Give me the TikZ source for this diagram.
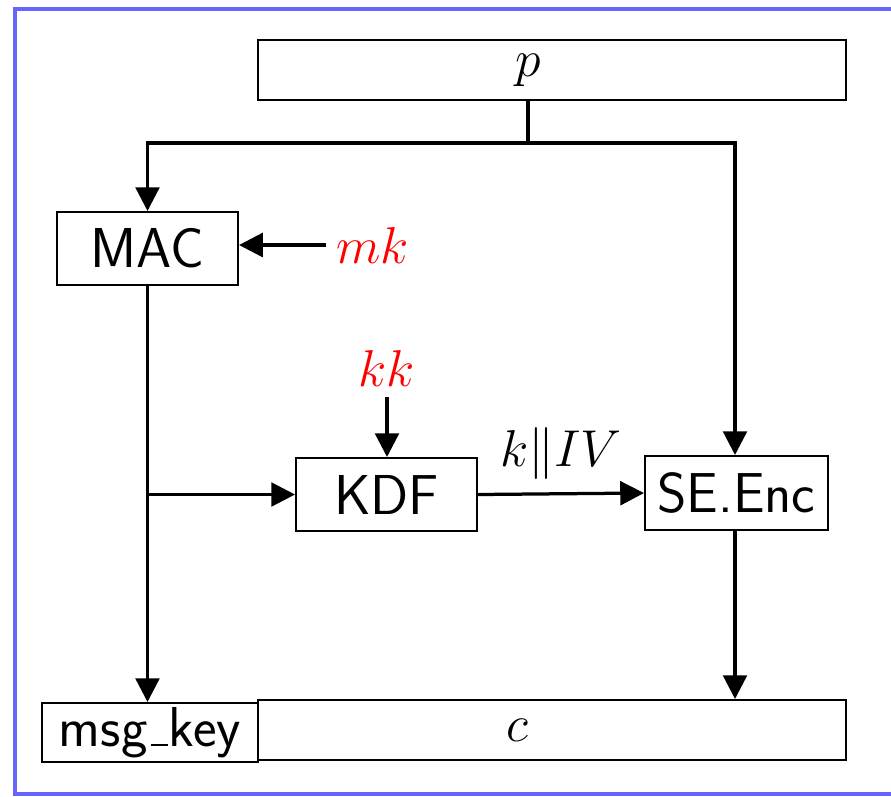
\documentclass[tikz,border=0pt]{standalone}
\usetikzlibrary{arrows.meta}
\definecolor{frameblue}{RGB}{102,102,255}
\newcommand{\thinunderscore}{\kern.06em\rule{.3em}{0.8pt}\kern.02em}
\tikzset{
  box/.style={draw, line width=0.8pt, inner sep=0pt, font=\fontsize{22.5}{26}\selectfont\sffamily},
  arr/.style={line width=1.3pt, -{Triangle[length=9.5pt,width=9.5pt]}},
  plain/.style={line width=1.3pt},
  mathlbl/.style={inner sep=4pt, font=\fontsize{20.5}{24}\selectfont},
  key/.style={mathlbl, text=red},
}
\begin{document}
\begin{tikzpicture}[x=0.4pt,y=-0.4pt]
\clip (0,0) rectangle (891,796);
\useasboundingbox (0,0) rectangle (891,796);
\draw[frameblue, line width=1.6pt] (15,9) rectangle (905,794);

\node[box, minimum width={588*0.4pt}, minimum height={60*0.4pt}] (pbox) at (552,70) {};
\node[mathlbl] (p) at (528,70) {$p$};
\node[box, minimum width={181*0.4pt}, minimum height={73*0.4pt}] (MAC) at (147.5,248.5) {MAC};
\node[box, minimum width={181*0.4pt}, minimum height={73*0.4pt}] (KDF) at (386.5,494.5) {KDF};
\node[box, minimum width={183*0.4pt}, minimum height={74*0.4pt}] (SE) at (736.5,493) {SE.Enc};
\node[box, minimum width={216*0.4pt}, minimum height={59*0.4pt}] (msg) at (150,732.5) {msg\thinunderscore key};
\node[box, minimum width={588*0.4pt}, minimum height={60*0.4pt}] (cbox) at (552,730) {};
\node[mathlbl] (c) at (517,730) {$c$};
\node[key, anchor=west] (mk) at (326,245) {$mk$};
\node[key, anchor=south] (kk) at (387,397) {$kk$};

\coordinate (split) at (528,143);
\coordinate (sedrop) at (735,143);
\draw[plain] (p |- pbox.south) -- (split);
\draw[arr] (split) -| (MAC.north);
\draw[arr] (split) -- (sedrop) -- (sedrop |- SE.north);
\draw[arr] (mk.west) -- (MAC.east |- mk.west);
\draw[arr] (MAC.south) -- (MAC.south |- msg.north);
\coordinate (branch) at (MAC.south |- KDF.west);
\draw[arr] (branch) -- (KDF.west);
\draw[arr] (kk.south) -- (KDF.north -| kk.south);
\draw[arr] (KDF.east) -- node[mathlbl, above, yshift=1pt] {$k\|IV$} (SE.west);
\draw[arr] (SE.south -| sedrop) -- (sedrop |- cbox.north);
\end{tikzpicture}
\end{document}
